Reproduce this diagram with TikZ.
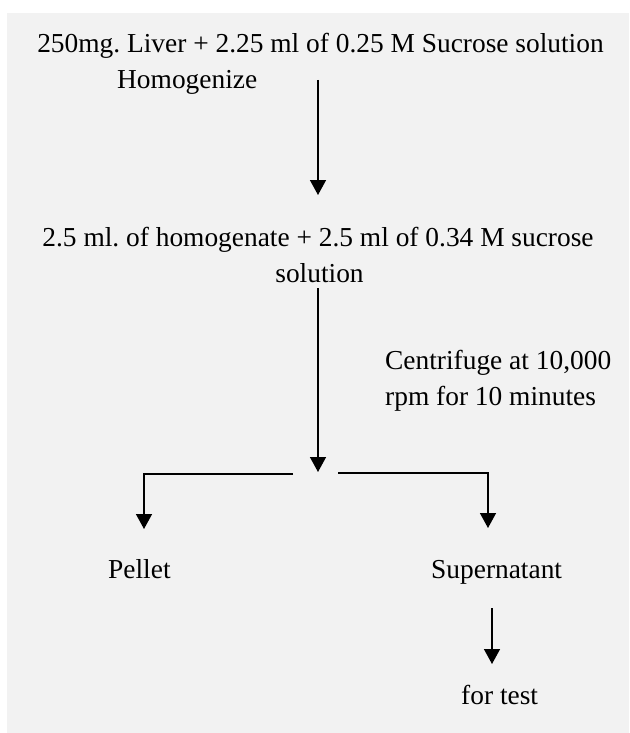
\documentclass[tikz,border=0pt]{standalone}
\usepackage{fontspec}
\setmainfont{Liberation Serif}
\usetikzlibrary{arrows.meta}
\definecolor{panelgray}{HTML}{F2F2F2}
\frenchspacing
\begin{document}
\begin{tikzpicture}[x=1pt,y=-1pt,
  txt/.style={inner sep=0pt, font=\fontsize{27.4}{36}\selectfont\frenchspacing, anchor=base},
  txtw/.style={txt, anchor=base west},
  arr/.style={line width=1.5pt, -{Triangle[width=16pt,length=15pt]}},
  ln/.style={line width=1.5pt}]
\useasboundingbox (0,0) rectangle (629,733);
\fill[panelgray] (7,13) rectangle (629,733);
% texts
\node[txt] (l1) at (320.5,53) {250mg. Liver + 2.25 ml of 0.25 M Sucrose solution};
\node[txtw] (hom) at (117,89) {Homogenize};
\node[txt] (l2) at (318,246) {2.5 ml. of homogenate + 2.5 ml of 0.34 M sucrose};
\node[txt] (sol) at (319.5,282) {solution};
\node[txtw] (cf1) at (385,369) {Centrifuge at 10,000};
\node[txtw] (cf2) at (385,405) {rpm for 10 minutes};
\node[txtw] (pel) at (108,578) {Pellet};
\node[txtw] (sup) at (431,578) {Supernatant};
\node[txtw] (test) at (461,704) {for test};
% connector end points
\coordinate (a1s) at (318,80);
\coordinate (a1e) at (318,195);
\coordinate (a2s) at (318,288);
\coordinate (a2e) at (318,472);
\coordinate (ls) at (293,474);
\coordinate (le) at (144,529);
\coordinate (rs) at (338,473);
\coordinate (re) at (488,528);
\coordinate (a3s) at (492,608);
\coordinate (a3e) at (492,664);
% connectors
\draw[arr] (a1s) -- (a1e);
\draw[arr] (a2s) -- (a2e);
\draw[arr] (ls) -| (le);
\draw[arr] (rs) -| (re);
\draw[arr] (a3s) -- (a3e);
\end{tikzpicture}
\end{document}
